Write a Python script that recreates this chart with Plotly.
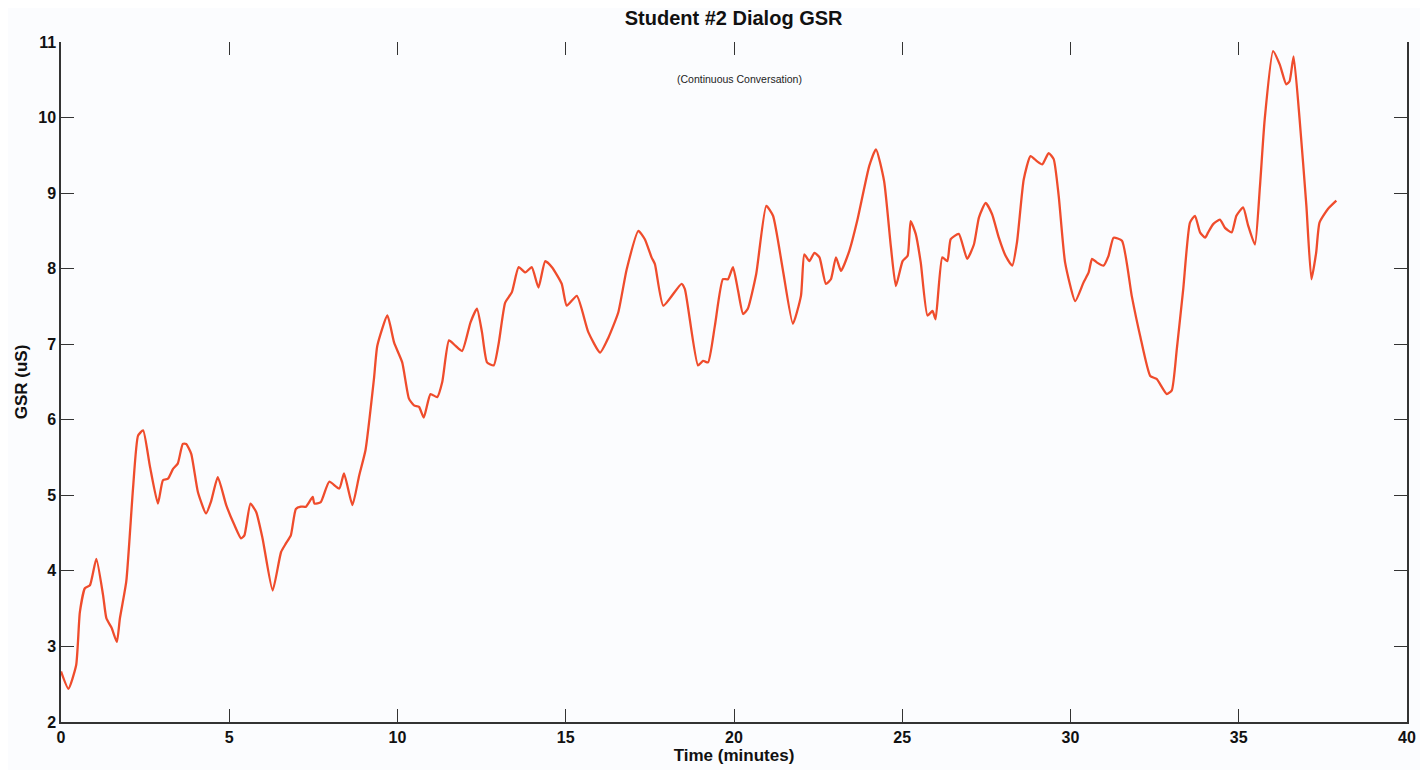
import plotly.graph_objects as go

time_min = [0.00, 0.22, 0.45, 0.56, 0.71, 0.86, 1.05, 1.25, 1.35, 1.50, 1.66, 1.75, 1.94, 2.14, 2.29, 2.44,
            2.64, 2.88, 3.03, 3.18, 3.33, 3.47, 3.62, 3.72, 3.87, 4.07, 4.31, 4.46, 4.66, 4.91, 5.16, 5.35,
            5.45, 5.63, 5.80, 5.99, 6.29, 6.54, 6.68, 6.83, 6.98, 7.13, 7.28, 7.48, 7.53, 7.72, 7.97, 8.27,
            8.41, 8.66, 8.86, 9.05, 9.30, 9.40, 9.70, 9.90, 10.14, 10.34, 10.49, 10.64, 10.78, 10.98, 11.18,
            11.33, 11.53, 11.72, 11.92, 12.17, 12.36, 12.51, 12.66, 12.86, 13.01, 13.20, 13.40, 13.60, 13.80,
            13.99, 14.19, 14.39, 14.59, 14.88, 15.03, 15.33, 15.67, 16.02, 16.27, 16.56, 16.81, 17.16, 17.35,
            17.55, 17.65, 17.90, 18.44, 18.54, 18.93, 19.08, 19.23, 19.43, 19.67, 19.82, 19.97, 20.12, 20.27,
            20.41, 20.66, 20.96, 21.16, 21.45, 21.75, 21.99, 22.09, 22.24, 22.39, 22.54, 22.73, 22.88, 23.03,
            23.18, 23.43, 23.67, 24.02, 24.22, 24.46, 24.66, 24.81, 25.01, 25.16, 25.25, 25.40, 25.55, 25.75,
            25.90, 25.99, 26.19, 26.34, 26.44, 26.68, 26.93, 27.13, 27.28, 27.48, 27.67, 27.87, 28.07, 28.27,
            28.41, 28.61, 28.81, 29.01, 29.16, 29.35, 29.50, 29.65, 29.84, 30.14, 30.39, 30.54, 30.64, 30.79,
            30.98, 31.13, 31.28, 31.53, 31.82, 32.07, 32.37, 32.56, 32.86, 33.01, 33.16, 33.35, 33.55, 33.70,
            33.85, 34.00, 34.09, 34.24, 34.44, 34.59, 34.79, 34.93, 35.13, 35.28, 35.48, 35.63, 35.77, 36.02,
            36.22, 36.41, 36.51, 36.63, 36.81, 37.01, 37.16, 37.30, 37.40, 37.65, 37.90]

gsr_us = [2.67, 2.44, 2.75, 3.45, 3.77, 3.81, 4.16, 3.68, 3.37, 3.25, 3.06, 3.37, 3.86, 5.09, 5.79, 5.86,
          5.39, 4.89, 5.20, 5.22, 5.35, 5.42, 5.68, 5.68, 5.55, 5.04, 4.76, 4.92, 5.24, 4.87, 4.60, 4.43,
          4.47, 4.89, 4.78, 4.43, 3.74, 4.25, 4.36, 4.47, 4.82, 4.85, 4.85, 4.98, 4.89, 4.91, 5.18, 5.09,
          5.29, 4.87, 5.26, 5.60, 6.54, 6.98, 7.38, 7.02, 6.76, 6.28, 6.19, 6.17, 6.03, 6.34, 6.30,
          6.50, 7.05, 6.98, 6.91, 7.29, 7.47, 7.16, 6.76, 6.72, 7.02, 7.55, 7.69, 8.02, 7.95,
          8.02, 7.75, 8.10, 8.02, 7.80, 7.51, 7.64, 7.16, 6.89, 7.09, 7.42, 7.99, 8.50, 8.39,
          8.15, 8.06, 7.51, 7.80, 7.73, 6.72, 6.78, 6.76, 7.24, 7.86, 7.86, 8.02, 7.71, 7.40,
          7.47, 7.93, 8.83, 8.70, 7.99, 7.27, 7.64, 8.19, 8.10, 8.21, 8.15, 7.80, 7.86, 8.15,
          7.97, 8.24, 8.65, 9.36, 9.58, 9.16, 8.30, 7.77, 8.10, 8.17, 8.63, 8.46, 8.08, 7.38,
          7.44, 7.33, 8.15, 8.10, 8.39, 8.46, 8.13, 8.32, 8.68, 8.87, 8.72, 8.41, 8.17, 8.04,
          8.35, 9.18, 9.49, 9.42, 9.38, 9.53, 9.45, 8.96, 8.08, 7.57, 7.82, 7.95, 8.13, 8.08,
          8.04, 8.17, 8.41, 8.37, 7.64, 7.11, 6.58, 6.54, 6.34, 6.39, 6.94, 7.73, 8.61, 8.70,
          8.48, 8.41, 8.48, 8.59, 8.65, 8.54, 8.48, 8.70, 8.81, 8.57, 8.32, 9.09, 9.97, 10.88,
          10.70, 10.44, 10.48, 10.81, 9.97, 8.83, 7.86, 8.21, 8.61, 8.79, 8.90]

x_ticks = [0, 5, 10, 15, 20, 25, 30, 35, 40]
y_ticks = [2, 3, 4, 5, 6, 7, 8, 9, 10, 11]

title_text = "Student #2 Dialog GSR"
subtitle_text = "(Continuous Conversation)"
x_title = "Time (minutes)"
y_title = "GSR (uS)"

FONT = "Liberation Sans, Arial, sans-serif"
AXIS_COLOR = "#333333"
BG = "#fbfcfe"

fig = go.Figure()
fig.add_trace(go.Scatter(
    x=time_min, y=gsr_us, mode="lines",
    line=dict(color="#ef4c2c", width=2.3, shape="spline", smoothing=0.5),
    showlegend=False, hoverinfo="x+y",
))
# invisible trace to anchor the top axis
fig.add_trace(go.Scatter(x=[0, 40], y=[2, 2], xaxis="x2", mode="lines",
                         line=dict(width=0), showlegend=False, hoverinfo="skip"))

# page body has an 8px margin: plot area spans pixels 58..1408 x 42..724
fig.update_layout(
    width=1420, height=762,
    paper_bgcolor=BG, plot_bgcolor=BG,
    margin=dict(l=50, r=20, t=34, b=46),
    font=dict(family=FONT, color="#111111"),
    title=dict(text="<b>" + title_text + "</b>", x=0.511, xanchor="center",
               y=1 - 10 / 762, yanchor="middle", font=dict(size=20, color="#111111")),
    xaxis=dict(
        range=[0, 40], tickvals=x_ticks, ticks="inside", ticklen=13, tickwidth=1.3,
        tickcolor=AXIS_COLOR, showline=True, linecolor=AXIS_COLOR, linewidth=1.5,
        showgrid=False, zeroline=False,
        tickfont=dict(size=16, weight="bold", color="#111111"),
        title=dict(text="<b>" + x_title + "</b>", font=dict(size=17, color="#111111"), standoff=0),
    ),
    xaxis2=dict(
        range=[0, 40], tickvals=x_ticks[1:-1], overlaying="x", side="top",
        ticks="inside", ticklen=13, tickwidth=1.3, tickcolor=AXIS_COLOR,
        showline=False, showgrid=False, zeroline=False, showticklabels=False,
    ),
    yaxis=dict(
        range=[2, 11], tickvals=y_ticks, ticks="inside", ticklen=13, tickwidth=1.3,
        tickcolor=AXIS_COLOR, showline=True, linecolor=AXIS_COLOR, linewidth=1.5,
        mirror="ticks", showgrid=False, zeroline=False,
        tickfont=dict(size=16, weight="bold", color="#111111"),
        title=dict(text="<b>" + y_title + "</b>", font=dict(size=17, color="#111111"), standoff=6),
    ),
    annotations=[dict(
        text=subtitle_text, x=0.504, xref="paper", y=(724 - 79) / 682, yref="paper",
        yanchor="middle", showarrow=False, font=dict(size=10.5, color="#222222"),
    )],
)

fig.write_html("out.html")
